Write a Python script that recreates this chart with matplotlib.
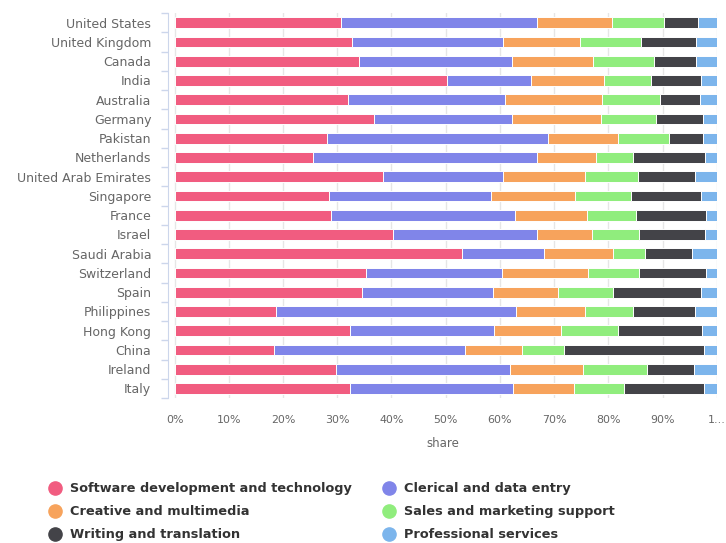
import numpy as np
import matplotlib.pyplot as plt

# === Data (share of freelancers per occupation, %) ===
countries = [
    "United States", "United Kingdom", "Canada", "India", "Australia",
    "Germany", "Pakistan", "Netherlands", "United Arab Emirates", "Singapore",
    "France", "Israel", "Saudi Arabia", "Switzerland", "Spain",
    "Philippines", "Hong Kong", "China", "Ireland", "Italy",
]

software = [30.7, 32.7, 34.0, 50.2, 32.0, 36.8, 28.1, 25.6, 38.5, 28.4,
            28.8, 40.2, 53.0, 35.3, 34.5, 18.8, 32.3, 18.4, 29.8, 32.3]
clerical = [36.1, 27.9, 28.3, 15.6, 28.9, 25.5, 40.7, 41.2, 22.1, 29.9,
            33.9, 26.6, 15.1, 25.0, 24.2, 44.1, 26.7, 35.1, 32.1, 30.2]
creative = [13.8, 14.1, 14.9, 13.4, 17.9, 16.3, 12.9, 11.0, 15.1, 15.5,
            13.3, 10.1, 12.7, 15.9, 12.0, 12.8, 12.2, 10.5, 13.4, 11.1]
sales = [9.6, 11.3, 11.2, 8.7, 10.7, 10.1, 9.4, 6.8, 9.8, 10.4,
         9.1, 8.7, 6.0, 9.4, 10.1, 8.9, 10.5, 7.8, 11.8, 9.3]
writing = [6.3, 10.2, 7.8, 9.1, 7.4, 8.8, 6.4, 13.3, 10.5, 12.8,
           12.9, 12.2, 8.6, 12.4, 16.2, 11.4, 15.6, 25.9, 8.7, 14.8]
professional = [3.5, 3.8, 3.8, 3.0, 3.1, 2.5, 2.5, 2.1, 4.0, 3.0,
                2.0, 2.2, 4.6, 2.0, 3.0, 4.0, 2.7, 2.3, 4.2, 2.3]

series_names = [
    "Software development and technology", "Clerical and data entry",
    "Creative and multimedia", "Sales and marketing support",
    "Writing and translation", "Professional services",
]
series_values = [software, clerical, creative, sales, writing, professional]
colors = ["#f15c80", "#8085e9", "#f7a35c", "#90ed7d", "#434348", "#7cb5ec"]

x_ticks = [0, 10, 20, 30, 40, 50, 60, 70, 80, 90, 100]
x_tick_labels = ["0%", "10%", "20%", "30%", "40%", "50%", "60%", "70%", "80%", "90%", "1…"]

# === Figure ===
fig = plt.figure(figsize=(7.26, 5.43), dpi=100)
ax = fig.add_axes([0.2314, 0.267, 0.756, 0.709])

y = np.arange(len(countries))
left = np.zeros(len(countries))
for name, vals, col in zip(series_names, series_values, colors):
    vals = np.array(vals)
    ax.barh(y, vals, left=left, height=0.56, color=col,
            edgecolor="white", linewidth=0.7, label=name, zorder=3)
    left += vals

ax.set_ylim(len(countries) - 0.5, -0.5)
ax.set_xlim(-1.2, 100)

# category axis (left)
ax.set_yticks(y, countries)
ax.set_yticks(np.arange(len(countries) + 1) - 0.5, minor=True)
ax.tick_params(axis="y", which="major", length=0, pad=12,
               labelsize=9.0, labelcolor="#666666")
ax.tick_params(axis="y", which="minor", length=5, color="#ccd6eb", width=1)

# value axis (bottom)
ax.set_xticks(x_ticks, x_tick_labels)
ax.tick_params(axis="x", length=0, pad=12, labelsize=7.9, labelcolor="#666666")
ax.set_xlabel("share", fontsize=8.5, color="#666666", labelpad=9)
ax.grid(axis="x", color="#e6e6e6", linewidth=1, zorder=0)

for side in ["top", "right", "bottom"]:
    ax.spines[side].set_visible(False)
ax.spines["left"].set_color("#ccd6eb")
ax.spines["left"].set_position(("data", -1.2))

# === Legend (row-wise order like the original) ===
handles = [plt.Line2D([], [], marker="o", linestyle="", markersize=9.5,
                      markerfacecolor=c, markeredgecolor=c) for c in colors]
order = [0, 2, 4, 1, 3, 5]
fig.legend([handles[i] for i in order], [series_names[i] for i in order],
           loc="upper left", bbox_to_anchor=(0.0667, 0.112), ncol=2,
           frameon=False, prop={"weight": "bold", "size": 9.3},
           labelcolor="#333333", handletextpad=0.65, columnspacing=2.42,
           labelspacing=0.78, handlelength=1.0, borderaxespad=0, borderpad=0)

plt.savefig("out.png", dpi=100)
plt.close()
